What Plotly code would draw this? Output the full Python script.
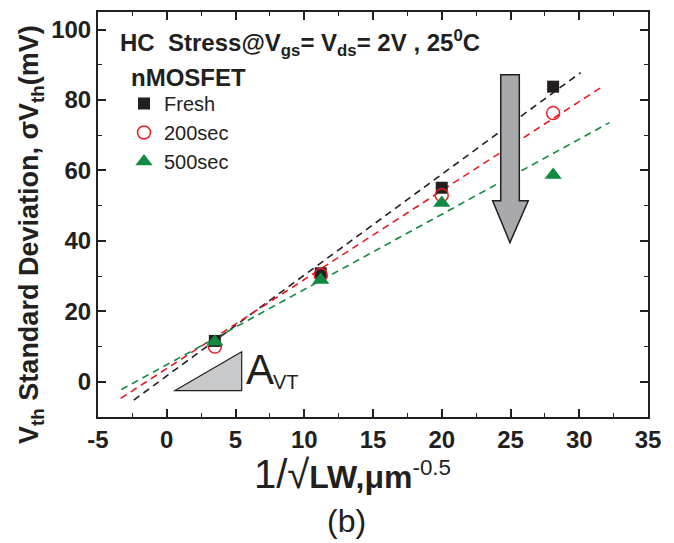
import plotly.graph_objects as go

# ---- data ----
x_vals = [3.5, 11.2, 20.0, 28.1]
fresh = [11.6, 30.8, 55.1, 83.8]
s200 = [10.0, 30.3, 53.0, 76.3]
s500 = [11.4, 28.9, 50.8, 58.7]

fit_fresh_x = [-2.4, 30.1]
fit_fresh_y = [-5.2, 87.8]
fit_200_x = [-3.35, 31.8]
fit_200_y = [-4.7, 84.1]
fit_500_x = [-3.3, 32.2]
fit_500_y = [-2.2, 73.6]

x_ticks = [-5, 0, 5, 10, 15, 20, 25, 30, 35]
y_ticks = [0, 20, 40, 60, 80, 100]

BLACK = "#231f20"
RED = "#ec1c24"
GREEN = "#118a42"
FONT = "Liberation Sans Narrow, Liberation Sans, Arial, sans-serif"

# plot area in window pixels (body has an 8px margin)
L, R, T, B = 98, 648, 12, 417


def px(xp):
    return (xp - L) / (R - L)


def py(yp):
    return (B - yp) / (B - T)


fig = go.Figure()

dash = "7px,5px"
for fx, fy, col in [(fit_fresh_x, fit_fresh_y, BLACK),
                    (fit_200_x, fit_200_y, RED),
                    (fit_500_x, fit_500_y, GREEN)]:
    fig.add_trace(go.Scatter(x=fx, y=fy, mode="lines", showlegend=False,
                             line=dict(color=col, width=1.6, dash=dash),
                             hoverinfo="skip"))

fig.add_trace(go.Scatter(x=x_vals, y=fresh, mode="markers", name="Fresh",
                         marker=dict(symbol="square", size=12, color=BLACK)))
fig.add_trace(go.Scatter(x=x_vals, y=s200, mode="markers", name="200sec",
                         marker=dict(symbol="circle-open", size=13, color=RED,
                                     line=dict(width=1.5, color=RED))))
fig.add_trace(go.Scatter(x=x_vals, y=s500, mode="markers", name="500sec",
                         marker=dict(symbol="triangle-up", size=15, color=GREEN)))

# big grey arrow (decoration)
arrow = ("M 24.29 87.2 L 25.64 87.2 L 25.64 51.4 L 26.29 51.4 L 24.96 39.5 "
         "L 23.7 51.4 L 24.29 51.4 Z")
fig.add_shape(type="path", path=arrow, xref="x", yref="y",
              fillcolor="#a7a9ac", line=dict(color=BLACK, width=1.5))
# A_VT triangle
fig.add_shape(type="path", path="M 0.6 -2.5 L 5.45 8.55 L 5.45 -2.5 Z",
              xref="x", yref="y", fillcolor="#c8c9cb",
              line=dict(color=BLACK, width=1.2))

fig.add_annotation(x=px(244), y=py(369), xref="paper", yref="paper", text="A",
                   showarrow=False, xanchor="left", yanchor="middle",
                   font=dict(family=FONT, size=42, color=BLACK))
fig.add_annotation(x=px(271), y=py(382), xref="paper", yref="paper", text="VT",
                   showarrow=False, xanchor="left", yanchor="middle",
                   font=dict(family=FONT, size=20, color=BLACK))

fig.add_annotation(x=px(118), y=py(43), xref="paper", yref="paper",
                   text="<b>HC  Stress@V<sub>gs</sub>= V<sub>ds</sub>= 2V , 25<sup>0</sup>C</b>",
                   showarrow=False, xanchor="left", yanchor="middle",
                   font=dict(family=FONT, size=24, color=BLACK))
fig.add_annotation(x=px(129), y=py(77), xref="paper", yref="paper",
                   text="<b>nMOSFET</b>",
                   showarrow=False, xanchor="left", yanchor="middle",
                   font=dict(family=FONT, size=24, color=BLACK))

# axis titles as annotations
fig.add_annotation(x=px(31), y=py(235), xref="paper", yref="paper", textangle=-90,
                   text="<b>V<sub>th</sub> Standard Deviation, σV<sub>th</sub>(mV)</b>",
                   showarrow=False, xanchor="center", yanchor="middle",
                   font=dict(family=FONT, size=27, color=BLACK))
fig.add_annotation(x=px(352), y=py(474), xref="paper", yref="paper",
                   text="<span style='font-size:40px'>1/√</span><b>LW,μm</b><sup>-0.5</sup>",
                   showarrow=False, xanchor="center", yanchor="middle",
                   font=dict(family=FONT, size=32, color=BLACK))
fig.add_annotation(x=px(346), y=py(521), xref="paper", yref="paper", text="(b)",
                   showarrow=False, xanchor="center", yanchor="middle",
                   font=dict(family=FONT, size=32, color=BLACK))

axis_common = dict(showline=True, linecolor=BLACK, linewidth=2, mirror="allticks",
                   ticks="inside", ticklen=8, tickwidth=1.5, tickcolor=BLACK,
                   showgrid=False, zeroline=False, automargin=False,
                   tickfont=dict(family=FONT, size=24, color=BLACK))

fig.update_xaxes(range=[-5, 35], tickvals=x_ticks,
                 ticktext=[f"<b>{t}</b>" for t in x_ticks],
                 minor=dict(ticks="inside", ticklen=4, tickwidth=1, tickcolor=BLACK, dtick=2.5),
                 **axis_common)
fig.update_yaxes(range=[-10, 105], tickvals=y_ticks,
                 ticktext=[f"<b>{t}</b>" for t in y_ticks],
                 minor=dict(ticks="inside", ticklen=4, tickwidth=1, tickcolor=BLACK, dtick=10),
                 **axis_common)

W, H = 666, 535
fig.update_layout(
    width=W, height=H,
    margin=dict(l=L - 8, r=W + 8 - R, t=T - 8, b=H + 8 - B),
    paper_bgcolor="white", plot_bgcolor="white",
    legend=dict(x=px(124), y=py(84), xanchor="left", yanchor="top",
                bgcolor="rgba(0,0,0,0)",
                font=dict(family=FONT, size=20, color=BLACK),
                itemwidth=30, tracegroupgap=0),
    showlegend=True,
)

fig.write_html("out.html")
